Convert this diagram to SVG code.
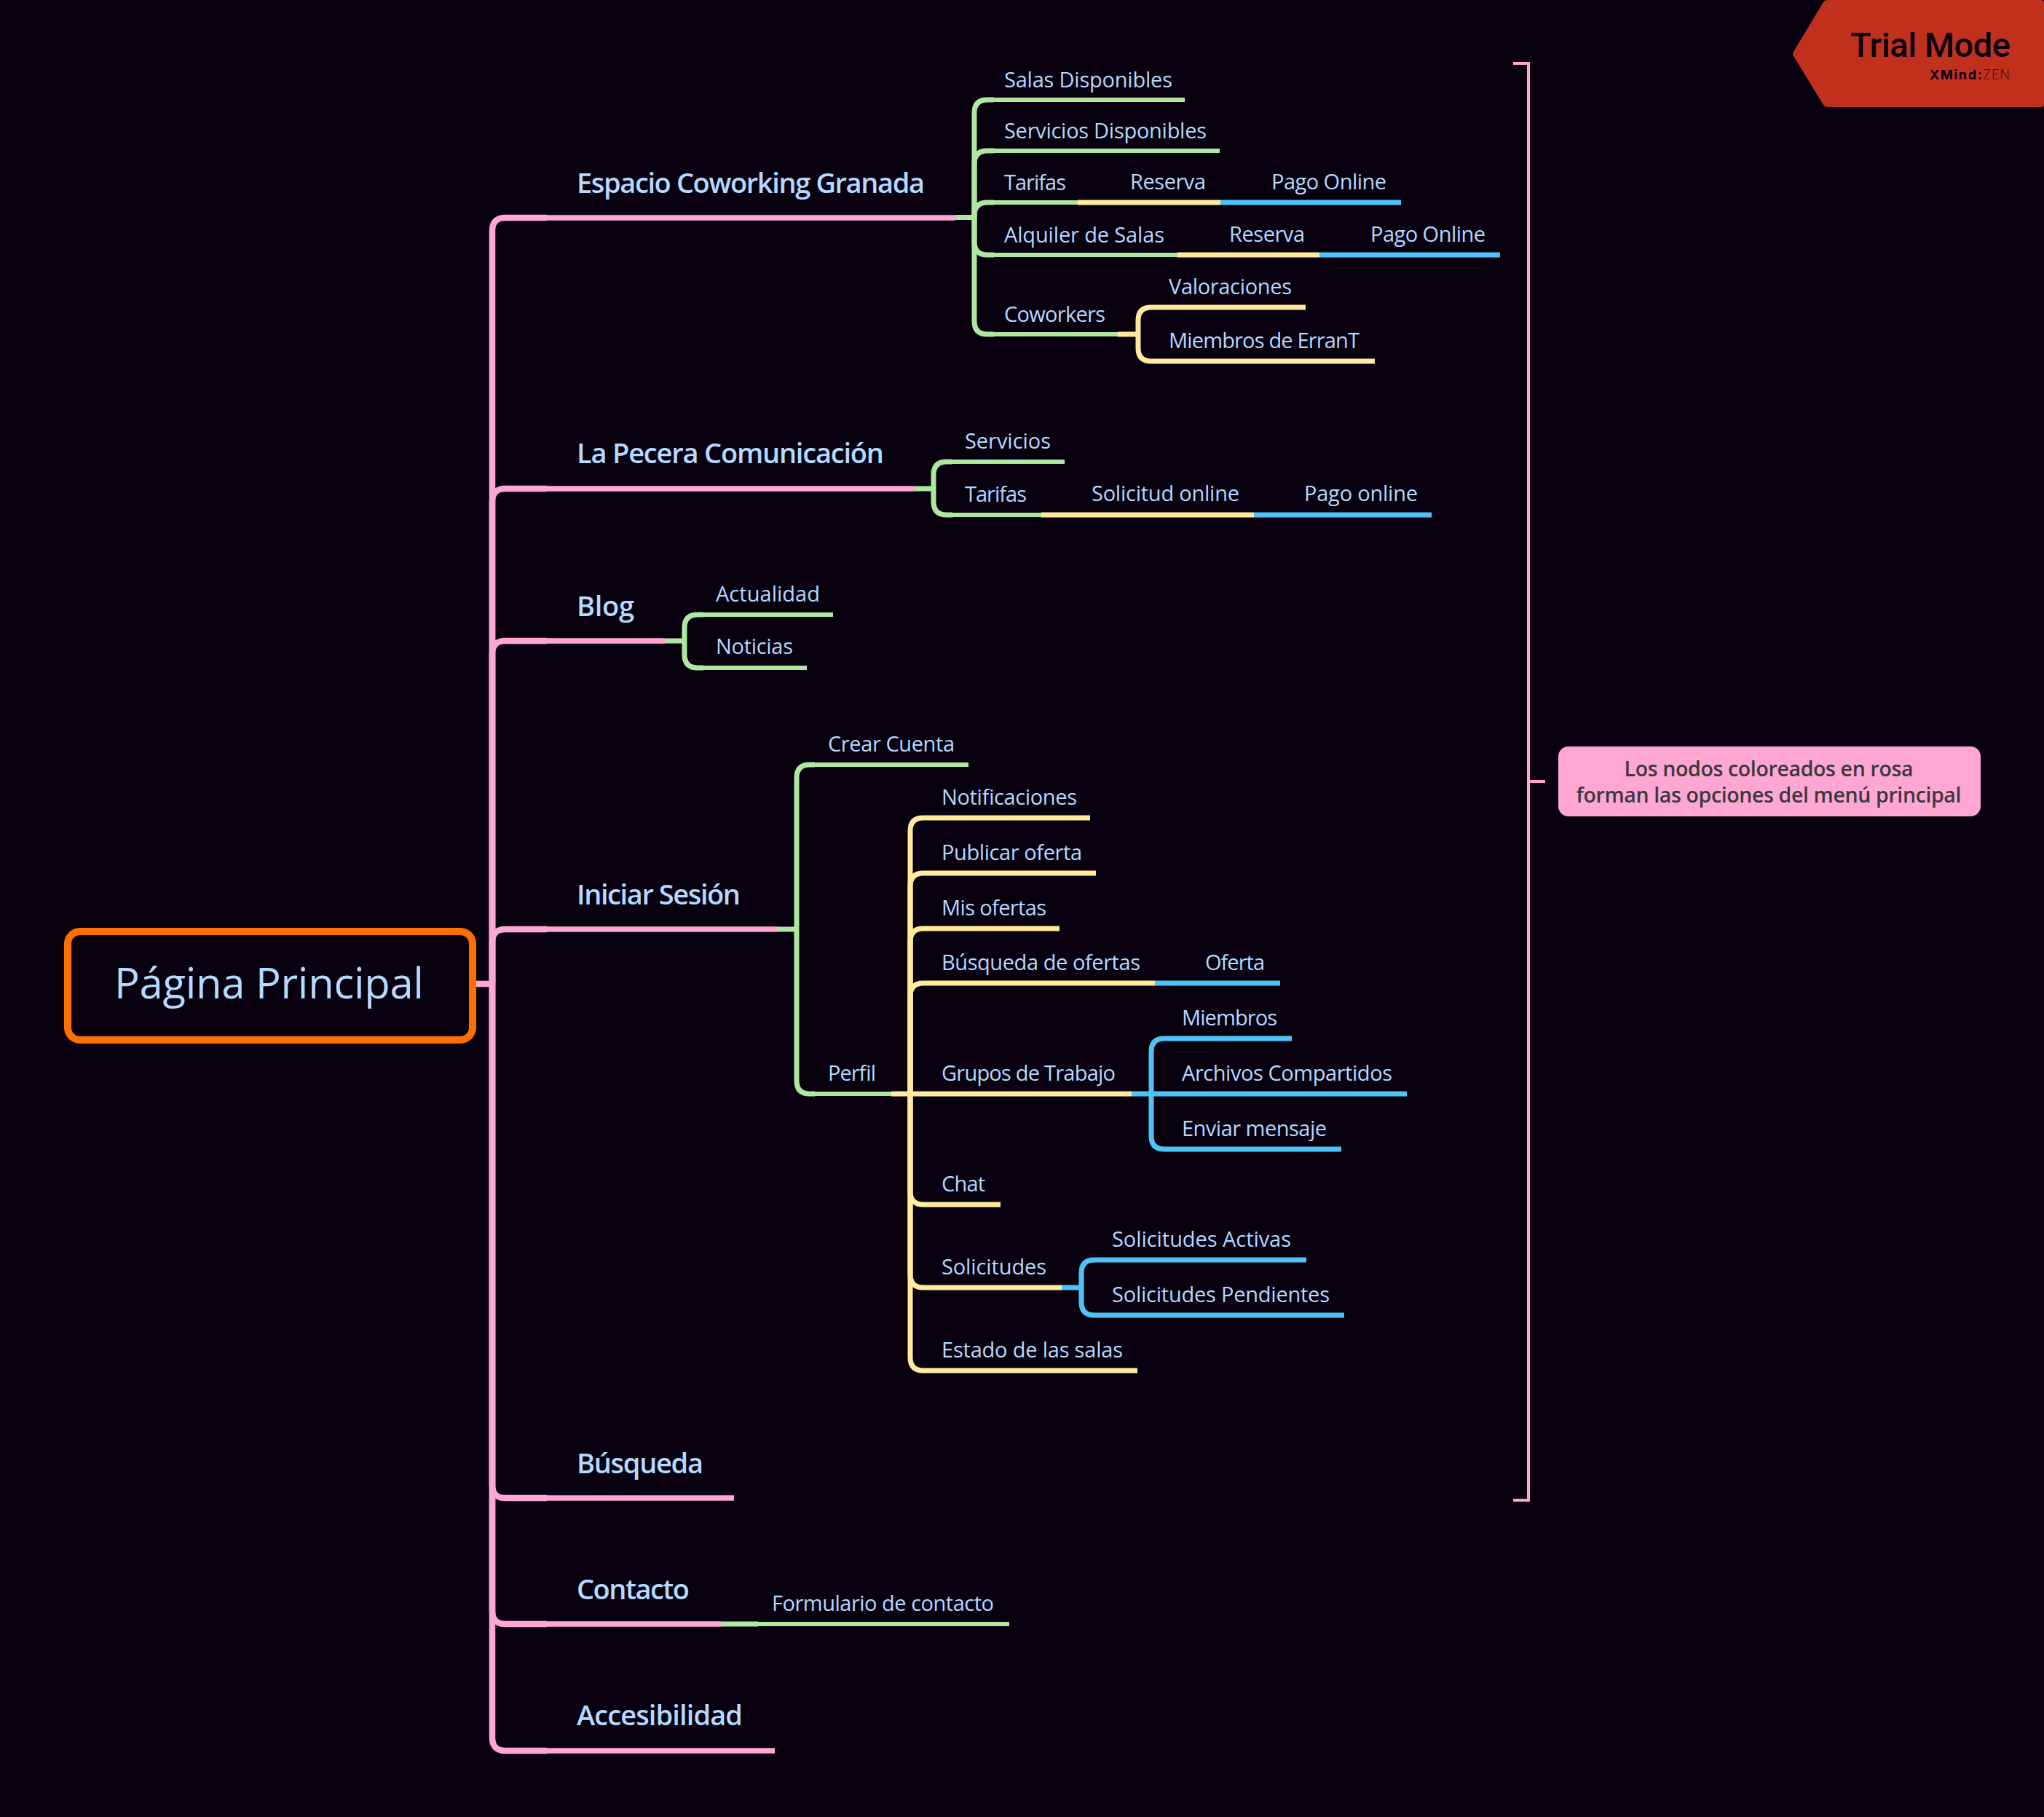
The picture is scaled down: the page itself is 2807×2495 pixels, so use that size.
<svg xmlns="http://www.w3.org/2000/svg" width="2807" height="2495" viewBox="0 0 2807 2495">
<style>
text{font-family:"Open Sans","Liberation Sans",sans-serif;fill:#B3DAFF}
.t0{font-size:58px;font-weight:500}
.t1{font-size:38px;font-weight:600}
.t2{font-size:29px}
path{fill:none;stroke-linecap:butt}
.p{stroke:#FFA6D2;stroke-width:7.5}
.g{stroke:#AEE8A0;stroke-width:6.2}
.y{stroke:#FFEB9B;stroke-width:6.8}
.b{stroke:#4FC3F7;stroke-width:6.8}
.pc{stroke:#FFA6D2;stroke-width:8.5}
.gc{stroke:#AEE8A0;stroke-width:7}
.yc{stroke:#FFEB9B;stroke-width:7}
.bc{stroke:#4FC3F7;stroke-width:7}
</style>
<rect width="2807" height="2495" fill="#08000F"/>
<g id="connectors">
<path class="pc" d="M654 1351H676"/>
<path class="pc" d="M676 1351V317Q676 299 694 299H751"/>
<path class="pc" d="M676 1351V689Q676 671 694 671H751"/>
<path class="pc" d="M676 1351V898Q676 880 694 880H751"/>
<path class="pc" d="M676 1351V1294Q676 1276 694 1276H751"/>
<path class="pc" d="M676 1351V2039Q676 2057 694 2057H751"/>
<path class="pc" d="M676 1351V2212Q676 2230 694 2230H751"/>
<path class="pc" d="M676 1351V2386Q676 2404 694 2404H751"/>
<path class="gc" d="M1312 298.5H1338"/>
<path class="gc" d="M1338 298V155Q1338 137 1356 137H1365"/>
<path class="gc" d="M1338 298V225Q1338 207 1356 207H1365"/>
<path class="gc" d="M1338 298V296Q1338 278 1356 278H1365"/>
<path class="gc" d="M1338 298V332Q1338 350 1356 350H1365"/>
<path class="gc" d="M1338 298V441Q1338 459 1356 459H1365"/>
<path class="gc" d="M1256 671H1282"/>
<path class="gc" d="M1282 671V652Q1282 634 1300 634H1308"/>
<path class="gc" d="M1282 671V689Q1282 707 1300 707H1308"/>
<path class="gc" d="M913 880H940"/>
<path class="gc" d="M940 880V862Q940 844 958 844H966"/>
<path class="gc" d="M940 880V899Q940 917 958 917H966"/>
<path class="gc" d="M1068 1276H1094"/>
<path class="gc" d="M1094 1276V1068Q1094 1050 1112 1050H1119"/>
<path class="gc" d="M1094 1276V1484Q1094 1502 1112 1502H1119"/>
<path class="gc" d="M990 2230H1041"/>
<path class="yc" d="M1480 278H1534"/>
<path class="bc" d="M1676 278H1727"/>
<path class="yc" d="M1617 350H1669"/>
<path class="bc" d="M1812 350H1864"/>
<path class="yc" d="M1535 459H1563"/>
<path class="yc" d="M1563 459V440Q1563 422 1581 422H1588"/>
<path class="yc" d="M1563 459V478Q1563 496 1581 496H1588"/>
<path class="yc" d="M1430 707H1482"/>
<path class="bc" d="M1722 707H1773"/>
<path class="yc" d="M1224 1502H1276"/>
<path class="yc" d="M1250 1502V1141Q1250 1123 1268 1123H1276"/>
<path class="yc" d="M1250 1502V1217Q1250 1199 1268 1199H1276"/>
<path class="yc" d="M1250 1502V1293Q1250 1275 1268 1275H1276"/>
<path class="yc" d="M1250 1502V1368Q1250 1350 1268 1350H1276"/>
<path class="yc" d="M1250 1502V1636Q1250 1654 1268 1654H1276"/>
<path class="yc" d="M1250 1502V1750Q1250 1768 1268 1768H1276"/>
<path class="yc" d="M1250 1502V1864Q1250 1882 1268 1882H1276"/>
<path class="bc" d="M1586 1350H1638"/>
<path class="bc" d="M1554 1502H1605"/>
<path class="bc" d="M1581 1502V1444Q1581 1426 1599 1426H1605"/>
<path class="bc" d="M1581 1502V1560Q1581 1578 1599 1578H1605"/>
<path class="bc" d="M1458 1768H1485"/>
<path class="bc" d="M1485 1768V1748Q1485 1730 1503 1730H1509"/>
<path class="bc" d="M1485 1768V1788Q1485 1806 1503 1806H1509"/>
</g>
<g id="root"><rect x="93" y="1279" width="556" height="149" rx="17" fill="#08000F" stroke="#FF6F00" stroke-width="10"/><text class="t0" x="157" y="1371" textLength="425">Página Principal</text></g>
<g id="n-espacio"><path class="p" d="M751 299H1312"/><text class="t1" x="792" y="265" textLength="478">Espacio Coworking Granada</text></g>
<g id="n-salas"><path class="g" d="M1365 137H1627"/><text class="t2" x="1379" y="120" textLength="231">Salas Disponibles</text></g>
<g id="n-servicios"><path class="g" d="M1365 207H1675"/><text class="t2" x="1379" y="190" textLength="278">Servicios Disponibles</text></g>
<g id="n-tarifas"><path class="g" d="M1365 278H1480"/><text class="t2" x="1379" y="261" textLength="85">Tarifas</text></g>
<g id="n-reserva1"><path class="y" d="M1534 278H1676"/><text class="t2" x="1552" y="260" textLength="104">Reserva</text></g>
<g id="n-pago1"><path class="b" d="M1727 278H1924"/><text class="t2" x="1746" y="260" textLength="158">Pago Online</text></g>
<g id="n-alquiler"><path class="g" d="M1365 350H1617"/><text class="t2" x="1379" y="333" textLength="220">Alquiler de Salas</text></g>
<g id="n-reserva2"><path class="y" d="M1669 350H1812"/><text class="t2" x="1688" y="332" textLength="104">Reserva</text></g>
<g id="n-pago2"><path class="b" d="M1864 350H2060"/><text class="t2" x="1882" y="332" textLength="158">Pago Online</text></g>
<g id="n-coworkers"><path class="g" d="M1365 459H1535"/><text class="t2" x="1379" y="442" textLength="139">Coworkers</text></g>
<g id="n-valoraciones"><path class="y" d="M1588 422H1793"/><text class="t2" x="1605" y="404" textLength="169">Valoraciones</text></g>
<g id="n-miembros-errant"><path class="y" d="M1588 496H1888"/><text class="t2" x="1605" y="478" textLength="262">Miembros de ErranT</text></g>
<g id="n-pecera"><path class="p" d="M751 671H1256"/><text class="t1" x="792" y="636" textLength="422">La Pecera Comunicación</text></g>
<g id="n-servicios2"><path class="g" d="M1308 634H1462"/><text class="t2" x="1325" y="616" textLength="118">Servicios</text></g>
<g id="n-tarifas2"><path class="g" d="M1308 707H1430"/><text class="t2" x="1325" y="689" textLength="85">Tarifas</text></g>
<g id="n-solicitud"><path class="y" d="M1482 707H1722"/><text class="t2" x="1499" y="688" textLength="203">Solicitud online</text></g>
<g id="n-pago3"><path class="b" d="M1773 707H1966"/><text class="t2" x="1791" y="688" textLength="156">Pago online</text></g>
<g id="n-blog"><path class="p" d="M751 880H913"/><text class="t1" x="792" y="846" textLength="79">Blog</text></g>
<g id="n-actualidad"><path class="g" d="M966 844H1144"/><text class="t2" x="983" y="826" textLength="143">Actualidad</text></g>
<g id="n-noticias"><path class="g" d="M966 917H1108"/><text class="t2" x="983" y="898" textLength="106">Noticias</text></g>
<g id="n-iniciar"><path class="p" d="M751 1276H1068"/><text class="t1" x="792" y="1242" textLength="225">Iniciar Sesión</text></g>
<g id="n-crear"><path class="g" d="M1119 1050H1330"/><text class="t2" x="1137" y="1032" textLength="174">Crear Cuenta</text></g>
<g id="n-perfil"><path class="g" d="M1119 1502H1224"/><text class="t2" x="1137" y="1484" textLength="66">Perfil</text></g>
<g id="n-notificaciones"><path class="y" d="M1276 1123H1497"/><text class="t2" x="1293" y="1105" textLength="186">Notificaciones</text></g>
<g id="n-publicar"><path class="y" d="M1276 1199H1505"/><text class="t2" x="1293" y="1181" textLength="193">Publicar oferta</text></g>
<g id="n-mis"><path class="y" d="M1276 1275H1455"/><text class="t2" x="1293" y="1257" textLength="144">Mis ofertas</text></g>
<g id="n-busqueda-ofertas"><path class="y" d="M1276 1350H1586"/><text class="t2" x="1293" y="1332" textLength="273">Búsqueda de ofertas</text></g>
<g id="n-oferta"><path class="b" d="M1638 1350H1758"/><text class="t2" x="1655" y="1332" textLength="82">Oferta</text></g>
<g id="n-grupos"><path class="y" d="M1276 1502H1554"/><text class="t2" x="1293" y="1484" textLength="239">Grupos de Trabajo</text></g>
<g id="n-miembros"><path class="b" d="M1605 1426H1774"/><text class="t2" x="1623" y="1408" textLength="131">Miembros</text></g>
<g id="n-archivos"><path class="b" d="M1605 1502H1932"/><text class="t2" x="1623" y="1484" textLength="289">Archivos Compartidos</text></g>
<g id="n-enviar"><path class="b" d="M1605 1578H1842"/><text class="t2" x="1623" y="1560" textLength="199">Enviar mensaje</text></g>
<g id="n-chat"><path class="y" d="M1276 1654H1374"/><text class="t2" x="1293" y="1636" textLength="60">Chat</text></g>
<g id="n-solicitudes"><path class="y" d="M1276 1768H1458"/><text class="t2" x="1293" y="1750" textLength="144">Solicitudes</text></g>
<g id="n-activas"><path class="b" d="M1509 1730H1794"/><text class="t2" x="1527" y="1712" textLength="246">Solicitudes Activas</text></g>
<g id="n-pendientes"><path class="b" d="M1509 1806H1846"/><text class="t2" x="1527" y="1788" textLength="299">Solicitudes Pendientes</text></g>
<g id="n-estado"><path class="y" d="M1276 1882H1562"/><text class="t2" x="1293" y="1864" textLength="249">Estado de las salas</text></g>
<g id="n-busqueda"><path class="p" d="M751 2057H1008"/><text class="t1" x="792" y="2023" textLength="174">Búsqueda</text></g>
<g id="n-contacto"><path class="p" d="M751 2230H990"/><text class="t1" x="792" y="2196" textLength="155">Contacto</text></g>
<g id="n-formulario"><path class="g" d="M1041 2230H1386"/><text class="t2" x="1060" y="2212" textLength="305">Formulario de contacto</text></g>
<g id="n-accesibilidad"><path class="p" d="M751 2404H1064"/><text class="t1" x="792" y="2369" textLength="228">Accesibilidad</text></g>
<g id="boundary"><path d="M2078 87H2099V2060H2078M2099 1073H2122" stroke="#FFA6D2" stroke-width="4"/></g>
<g id="note"><rect x="2140" y="1025" width="580" height="96" rx="14" fill="#FFA6D2"/><text x="2429" y="1066" text-anchor="middle" font-size="28.5" font-weight="600" style="fill:#3A3A3F" textLength="397">Los nodos coloreados en rosa</text><text x="2429" y="1102" text-anchor="middle" font-size="28.5" font-weight="600" style="fill:#3A3A3F" textLength="529">forman las opciones del menú principal</text></g>
<g id="trial"><path d="M2510 0H2803Q2807 0 2807 4V143Q2807 147 2803 147H2510Q2506 147 2504 144L2463 77Q2461 74 2463 71L2504 3Q2506 0 2510 0Z" style="fill:#C1301D;stroke:none"/><text x="2541" y="78" font-size="47" font-weight="500" style="font-family:Roboto,'Liberation Sans',sans-serif;fill:#0A0012" textLength="220">Trial Mode</text><text x="2650" y="109" font-size="18" font-weight="700" style="font-family:Inter,'Liberation Sans',sans-serif;fill:#0A0012" textLength="64">XMind</text><text x="2716" y="109" font-size="18" font-weight="700" style="font-family:Inter,'Liberation Sans',sans-serif;fill:#0A0012">:</text><text x="2723" y="109" font-size="18" font-weight="300" style="font-family:Inter,'Liberation Sans',sans-serif;fill:#5E120E" textLength="37">ZEN</text></g>
</svg>
